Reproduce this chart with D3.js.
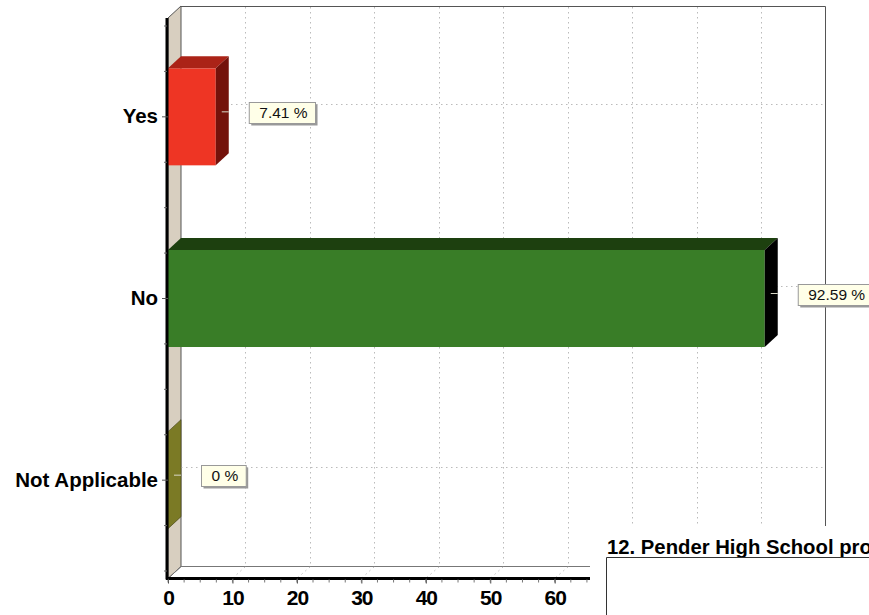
<!DOCTYPE html>
<html><head><meta charset="utf-8">
<script src="https://cdn.jsdelivr.net/npm/d3@7"></script>
<style>
html,body{margin:0;padding:0;background:#fff;overflow:hidden}
svg{display:block;font-family:"Liberation Sans",Arial,sans-serif}
</style></head><body>
<svg id="c" width="869" height="615"></svg>
<script>
const categories = ["Yes","No","Not Applicable"];
const seriesValues = [7.41,92.59,0];
const valueLabels = ["7.41 %","92.59 %","0 %"];
const frontColors = ["#ee3524","#397d27","#7b7a25"];
const topColors = ["#ab2317","#1d400f","#7b7a25"];
const sideColors = ["#74120b","#000000","#7b7a25"];
const xTickValues = [0,10,20,30,40,50,60,70,80,90,100];
const xMinorValues = d3.range(0,100.1,2.5);
const titleText = "12. Pender High School pro";

const svg = d3.select("#c");
const dx = 13, dy = -12;
const x = d3.scaleLinear().domain([0,100]).range([168,812.5]);
const y = d3.scaleBand().domain(categories).range([26,571]).paddingInner(0.466).paddingOuter(0.233);
const top0 = 18, bot0 = 578.5;
const cy = c => y(c)+y.bandwidth()/2;

// back plane frame
svg.append("path").attr("fill","none").attr("stroke","#555").attr("stroke-width",1)
  .attr("d",`M${x(0)+dx},${top0+dy}.5H${x(100)+dx}V${bot0+dy}`);
// wall
svg.append("path").attr("fill","#d8cfc0").attr("stroke","#555").attr("stroke-width",1)
  .attr("d",`M${x(0)},${top0}L${x(0)+dx},${top0+dy}V${bot0+dy}L${x(0)},${bot0}Z`);
// floor
svg.append("path").attr("fill","none").attr("stroke","#777").attr("stroke-width",1)
  .attr("d",`M${x(0)},${bot0}L${x(0)+dx},${bot0+dy}H${x(100)+dx}`);

// grid
const grid = svg.append("g").attr("stroke","#bbb").attr("stroke-width",1).attr("stroke-dasharray","1.5,3.5").attr("fill","none");
xTickValues.slice(1,-1).forEach(v=>{
  const px = Math.round(x(v)+dx)+.5;
  grid.append("path").attr("d",`M${px},${top0+dy+1}V${bot0+dy}L${x(v)+1},${bot0-1}`);
});
categories.forEach(c=>{
  const py = Math.round(cy(c)+dy)-.5;
  grid.append("path").attr("d",`M${x(0)+dx},${py}H${x(100)+dx}`);
});

// bars
categories.forEach((c,i)=>{
  const v = seriesValues[i], x0=x(0), x1=x(v), yt=y(c), yb=yt+y.bandwidth();
  const g = svg.append("g");
  if(v>0){
    g.append("rect").attr("x",x0).attr("y",yt).attr("width",x1-x0).attr("height",yb-yt).attr("fill",frontColors[i]);
    g.append("path").attr("fill",topColors[i]).attr("d",`M${x0},${yt}L${x0+dx},${yt+dy}H${x1+dx}L${x1},${yt}Z`);
  }
  g.append("path").attr("fill",sideColors[i]).attr("stroke",v>0?"none":"#3c3c10").attr("stroke-width",.6)
    .attr("d",`M${x1},${yt}L${x1+dx},${yt+dy}V${yb+dy}L${x1},${yb}Z`);
  // leader
  g.append("line").attr("x1",x1+dx-7).attr("x2",x1+dx).attr("y1",cy(c)-5).attr("y2",cy(c)-5)
    .attr("stroke","#d9d9c8").attr("stroke-width",1);
});

// axes
const xAxis = d3.axisBottom(x).tickValues(xTickValues).tickSize(5).tickPadding(7).tickFormat(d3.format("d"));
const gx = svg.append("g").attr("transform",`translate(0,${bot0})`).call(xAxis);
gx.select(".domain").attr("stroke","#000").attr("stroke-width",3).attr("d",`M${x(0)-2},0H${x(100)}`);
gx.selectAll(".tick line").attr("stroke","#444");
gx.selectAll(".tick text").attr("fill","#000").attr("font-size",21).attr("font-weight","bold")
  .attr("letter-spacing",-1)
  .attr("font-family",'"Liberation Sans",Arial,sans-serif');
gx.append("g").selectAll("line").data(xMinorValues).join("line")
  .attr("x1",d=>x(d)).attr("x2",d=>x(d)).attr("y1",1).attr("y2",4).attr("stroke","#777");

const yAxis = d3.axisLeft(y).tickSize(6).tickPadding(3);
const gy = svg.append("g").attr("transform",`translate(${x(0)},0)`).call(yAxis);
gy.select(".domain").attr("stroke","#000").attr("stroke-width",3).attr("d",`M-1,${top0}V${bot0+1}`);
gy.selectAll(".tick line").attr("stroke","#555");
gy.selectAll(".tick text").attr("fill","#000").attr("font-size",20.5).attr("font-weight","bold")
  .attr("font-family",'"Liberation Sans",Arial,sans-serif').attr("x",-10);
const step = y.step();
const minor = categories.flatMap(c=>[cy(c)-step/4,cy(c)+step/4,cy(c)-step/2]).concat([cy(categories[2])+step/2]);
gy.append("g").selectAll("line").data(minor).join("line")
  .attr("x1",-4).attr("x2",-1).attr("y1",d=>d).attr("y2",d=>d).attr("stroke","#666");

// white cover, next question title
svg.append("rect").attr("x",590).attr("y",526).attr("width",279).attr("height",89).attr("fill","#fff");
svg.append("text").attr("x",607).attr("y",554).attr("font-size",20.3).attr("font-weight","bold").attr("fill","#000").text(titleText);
svg.append("path").attr("fill","none").attr("stroke","#333").attr("stroke-width",1).attr("d","M606.5,615V557.5H869");

// value labels
categories.forEach((c,i)=>{
  const bx = x(seriesValues[i])+dx+20.5, by = Math.round(cy(c))-14.5;
  const g = svg.append("g").attr("transform",`translate(${bx},${by})`);
  const shadow = g.append("rect").attr("x",2).attr("y",2).attr("height",21).attr("fill","#999");
  const box = g.append("rect").attr("height",21).attr("fill","#ffffe8").attr("stroke","#999").attr("stroke-width",1);
  const t = g.append("text").attr("x",10).attr("y",15.5).attr("font-size",15.5).attr("fill","#111").text(valueLabels[i]);
  const w = t.node().getComputedTextLength()+18;
  shadow.attr("width",w); box.attr("width",w);
});
</script></body></html>
